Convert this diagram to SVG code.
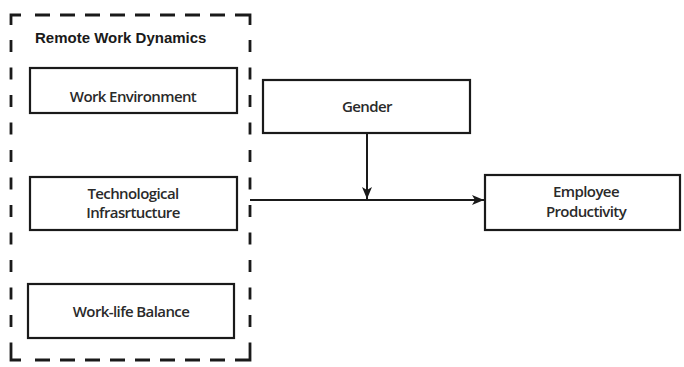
<svg xmlns="http://www.w3.org/2000/svg" width="684" height="367" viewBox="0 0 684 367">
<defs>
<style>
.box{fill:#fff;stroke:#1a1a1a;stroke-width:2.2}
.dash{fill:none;stroke:#1a1a1a;stroke-width:2.8}
.lbl{font-family:"Open Sans","Liberation Sans",sans-serif;font-size:15px;font-weight:600;fill:#2a2a2a;text-anchor:middle;letter-spacing:-0.6px}
.title{font-family:"Liberation Sans",Arial,sans-serif;font-size:15px;font-weight:bold;fill:#1a1a1a}
.conn{fill:none;stroke:#1a1a1a;stroke-width:2}
</style>
<marker id="ah" viewBox="0 0 12 10" refX="12" refY="5" markerWidth="12" markerHeight="10" markerUnits="userSpaceOnUse" orient="auto">
<path d="M0,0 L12,5 L0,10 L3,5 Z" fill="#1a1a1a"/>
</marker>
</defs>
<rect width="684" height="367" fill="#fff"/>
<g id="group-remote">
<path class="dash" d="M11,25 V15 H21" />
<path class="dash" d="M35,15 H240" stroke-dasharray="15 10"/>
<path class="dash" d="M240,15 H250 V25"/>
<path class="dash" d="M11,40 V350" stroke-dasharray="12 15.5"/>
<path class="dash" d="M250,40 V350" stroke-dasharray="12 15.5"/>
<path class="dash" d="M11,350 V360 H21"/>
<path class="dash" d="M35,360 H240" stroke-dasharray="15 10"/>
<path class="dash" d="M240,360 H250 V350"/>
<text class="title" x="35" y="43">Remote Work Dynamics</text>
</g>
<g id="work-environment">
<rect class="box" x="30" y="68" width="207" height="45"/>
<text class="lbl" x="133" y="102">Work Environment</text>
</g>
<g id="technological-infrastructure">
<rect class="box" x="30" y="177" width="207" height="53"/>
<text class="lbl" x="133" y="199">Technological</text>
<text class="lbl" x="133" y="218">Infrasrtucture</text>
</g>
<g id="work-life-balance">
<rect class="box" x="28" y="284" width="206" height="54"/>
<text class="lbl" x="131" y="317">Work-life Balance</text>
</g>
<g id="gender">
<rect class="box" x="263" y="80" width="207" height="53"/>
<text class="lbl" x="367" y="112">Gender</text>
</g>
<g id="employee-productivity">
<rect class="box" x="485" y="175" width="195" height="55"/>
<text class="lbl" x="586" y="197">Employee</text>
<text class="lbl" x="586" y="217">Productivity</text>
</g>
<g id="connectors">
<path class="conn" d="M250,200 H484" marker-end="url(#ah)"/>
<path class="conn" d="M367,133 V199" marker-end="url(#ah)"/>
</g>
</svg>
